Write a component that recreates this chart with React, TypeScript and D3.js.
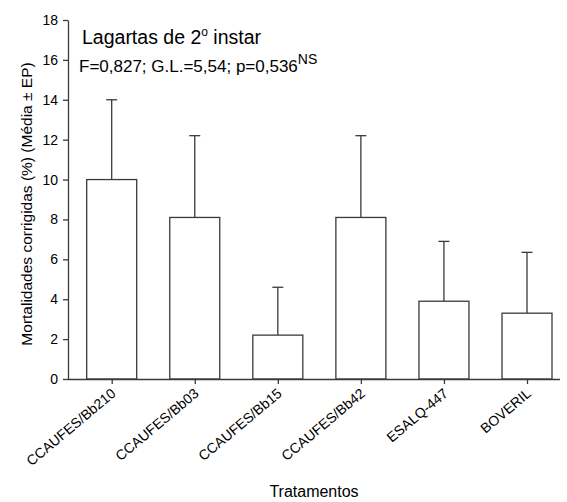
import { useEffect, useRef } from 'react';
import * as d3 from 'd3';

const categories = ['CCAUFES/Bb210', 'CCAUFES/Bb03', 'CCAUFES/Bb15', 'CCAUFES/Bb42', 'ESALQ-447', 'BOVERIL'];
const means = [10, 8.1, 2.2, 8.1, 3.9, 3.3];
const errors = [4, 4.1, 2.4, 4.1, 3.0, 3.05];
const yTicks = [0, 2, 4, 6, 8, 10, 12, 14, 16, 18];

const width = 567;
const height = 502;
const font = 'Arial, "Liberation Sans", sans-serif';
const stroke = '#3a3a3a';

export default function App() {
  const axesRef = useRef<SVGGElement>(null);

  const xScale = d3.scalePoint<string>().domain(categories).range([111.7, 527]);
  const yScale = d3.scaleLinear().domain([0, 18]).range([379, 20]);
  const barW = 50;

  useEffect(() => {
    const g = d3.select(axesRef.current);
    g.selectAll('*').remove();

    // Y AXIS
    const yAxis = g.append('g')
      .attr('transform', 'translate(68,0)')
      .call(d3.axisLeft(yScale).tickValues(yTicks).tickSize(5).tickSizeOuter(0).tickPadding(5));
    yAxis.select('.domain').attr('stroke', stroke).attr('stroke-width', 1.3);
    yAxis.selectAll('.tick line').attr('stroke', stroke).attr('stroke-width', 1.3);
    yAxis.selectAll('.tick text').attr('font-size', 14).attr('font-family', font).attr('fill', '#000');

    // X AXIS
    const xAxis = g.append('g')
      .attr('transform', 'translate(0,379)')
      .call(d3.axisBottom(xScale).tickSize(5).tickSizeOuter(0).tickFormat(() => ''));
    xAxis.select('.domain').attr('d', 'M68,0.5H560').attr('stroke', stroke).attr('stroke-width', 1.3);
    xAxis.selectAll('.tick line').attr('stroke', stroke).attr('stroke-width', 1.3);

    // x tick labels rotated
    g.append('g').selectAll('text')
      .data(categories)
      .join('text')
      .attr('transform', d => `translate(${xScale(d)! + 5},${395}) rotate(-40)`)
      .attr('text-anchor', 'end')
      .attr('font-size', 14)
      .attr('font-family', font)
      .text(d => d);
  }, []);

  return (
    <svg width={width} height={height} style={{ position: 'absolute', left: 0, top: 0 }}>
      <g className="bars">
        {categories.map((c, i) => {
          const cx = xScale(c)!;
          const top = yScale(means[i] + errors[i]);
          return (
            <g key={c}>
              <line x1={cx} x2={cx} y1={yScale(means[i])} y2={top} stroke={stroke} strokeWidth={1.3} />
              <line x1={cx - 5.5} x2={cx + 5.5} y1={top} y2={top} stroke={stroke} strokeWidth={1.3} />
              <rect
                x={cx - barW / 2}
                y={yScale(means[i])}
                width={barW}
                height={yScale(0) - yScale(means[i])}
                fill="#fff"
                stroke={stroke}
                strokeWidth={1.3}
              />
            </g>
          );
        })}
      </g>
      <g ref={axesRef} />
      <text x={82} y={44} fontSize={19.5} fontFamily={font}>
        Lagartas de 2<tspan dy={-8} fontSize={12}>o</tspan><tspan dy={8}> instar</tspan>
      </text>
      <text x={79} y={72} fontSize={17} fontFamily={font}>
        F=0,827; G.L.=5,54; p=0,536<tspan dy={-8} fontSize={14}>NS</tspan>
      </text>
      <text
        transform="translate(32,204) rotate(-90)"
        textAnchor="middle"
        fontSize={15.5}
        fontFamily={font}
      >
        Mortalidades corrigidas (%) (Média ± EP)
      </text>
      <text x={314} y={497} textAnchor="middle" fontSize={16} fontFamily={font}>
        Tratamentos
      </text>
    </svg>
  );
}
